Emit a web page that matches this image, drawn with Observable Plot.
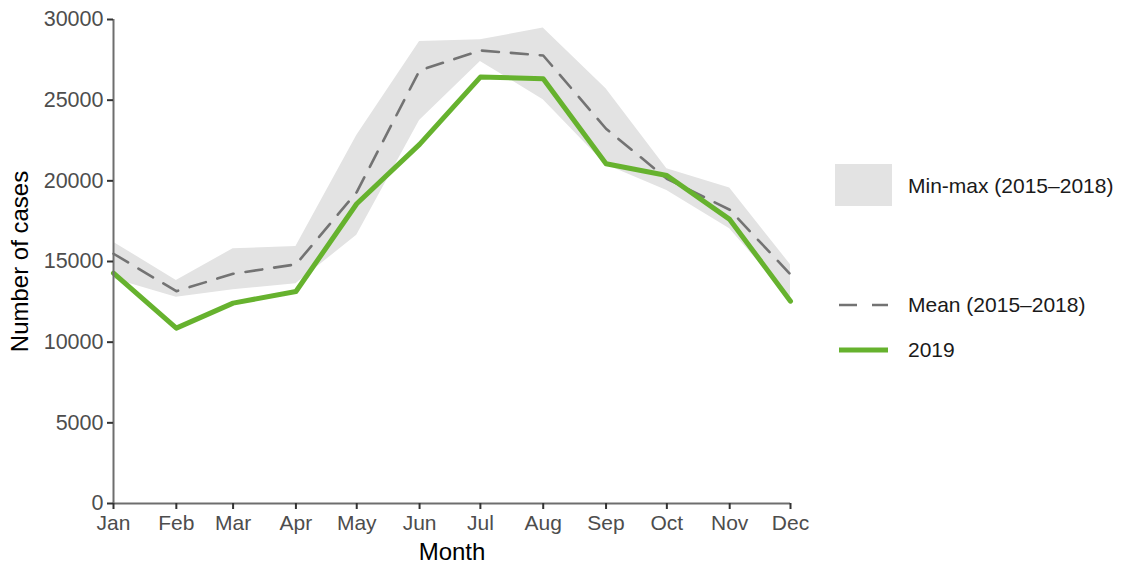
<!DOCTYPE html>
<html>
<head>
<meta charset="utf-8">
<script src="https://cdn.jsdelivr.net/npm/d3@7"></script>
<script src="https://cdn.jsdelivr.net/npm/@observablehq/plot@0.6"></script>
<style>
  html, body { margin: 0; padding: 0; background: #fff; }
  #wrap { position: relative; width: 1122px; height: 563px; font-family: "Liberation Sans", Arial, sans-serif; }
  #legend { position: absolute; left: 0; top: 0; }
</style>
</head>
<body>
<div id="wrap"></div>
<script>
const months = ["Jan","Feb","Mar","Apr","May","Jun","Jul","Aug","Sep","Oct","Nov","Dec"];
const meanValues = [15480, 13160, 14240, 14820, 19300, 26840, 28080, 27770, 23230, 20130, 18210, 14200];
const minValues  = [13930, 12790, 13250, 13620, 16620, 23740, 27400, 25030, 21000, 19400, 17030, 12700];
const maxValues  = [16200, 13825, 15790, 15930, 22810, 28640, 28740, 29470, 25710, 20750, 19550, 14800];
const values2019 = [14280, 10870, 12420, 13140, 18580, 22260, 26430, 26330, 21060, 20330, 17610, 12540];
const yTicks = [0, 5000, 10000, 15000, 20000, 25000, 30000];
const legendLabels = ["Min-max (2015\u20132018)", "Mean (2015\u20132018)", "2019"];

const data = months.map((m, i) => ({
  date: new Date(Date.UTC(2019, i, 1)),
  month: m,
  mean: meanValues[i],
  min: minValues[i],
  max: maxValues[i],
  v2019: values2019[i]
}));
const monthDates = data.map(d => d.date);

const bandColor = "#e3e3e3";
const meanColor = "#737373";
const greenColor = "#66b22e";
const dash = "17,12";

const chart = Plot.plot({
  width: 1122,
  height: 563,
  marginLeft: 113,
  marginRight: 332,
  marginTop: 19,
  marginBottom: 60,
  style: { fontFamily: "Liberation Sans, Arial, sans-serif", background: "#fff", overflow: "visible" },
  x: { type: "utc", domain: [monthDates[0], monthDates[11]] },
  y: { domain: [0, 30000] },
  marks: [
    Plot.areaY(data, { x: "date", y1: "min", y2: "max", fill: bandColor }),
    Plot.line(data, { x: "date", y: "mean", stroke: meanColor, strokeWidth: 2.6, strokeDasharray: dash }),
    Plot.line(data, { x: "date", y: "v2019", stroke: greenColor, strokeWidth: 5, strokeLinejoin: "round" }),
    Plot.ruleX([monthDates[0]], { y1: 0, y2: 30000, stroke: "#6e6e6e", strokeWidth: 2 }),
    Plot.ruleY([0], { x1: monthDates[0], x2: monthDates[11], stroke: "#6e6e6e", strokeWidth: 2 }),
    Plot.axisY({ ticks: yTicks, tickFormat: d => String(d), tickSize: 6, tickPadding: 4, fontSize: 21.5,
      stroke: "#333", fill: "#4d4d4d", strokeWidth: 2, label: null }),
    Plot.axisX({ ticks: monthDates, tickFormat: d => months[d.getUTCMonth()], tickSize: 6, tickPadding: 6,
      fontSize: 21, stroke: "#333", fill: "#4d4d4d", strokeWidth: 2, label: null }),
    Plot.text(["Month"], { frameAnchor: "bottom", dy: 49, lineAnchor: "middle", textAnchor: "middle",
      fontSize: 24, fill: "#000", text: d => d }),
    Plot.text(["Number of cases"], { frameAnchor: "left", dx: -93, rotate: -90, textAnchor: "middle",
      lineAnchor: "middle", fontSize: 24, fill: "#000", text: d => d })
  ]
});
document.getElementById("wrap").appendChild(chart);

// Legend
const svg = d3.select("#wrap").append("svg")
  .attr("id", "legend").attr("width", 1122).attr("height", 563)
  .style("font-family", "Liberation Sans, Arial, sans-serif");
svg.append("rect").attr("x", 835).attr("y", 164).attr("width", 57).attr("height", 42).attr("fill", bandColor);
svg.append("line").attr("x1", 839).attr("x2", 888).attr("y1", 305).attr("y2", 305)
  .attr("stroke", meanColor).attr("stroke-width", 2.6).attr("stroke-dasharray", "18,15");
svg.append("line").attr("x1", 839).attr("x2", 888).attr("y1", 350).attr("y2", 350)
  .attr("stroke", greenColor).attr("stroke-width", 5);
const ly = [186, 305, 350];
legendLabels.forEach((t, i) => {
  svg.append("text").attr("x", 908).attr("y", ly[i]).attr("dy", "0.35em")
    .attr("font-size", 21).attr("fill", "#1a1a1a").text(t);
});
</script>
</body>
</html>
